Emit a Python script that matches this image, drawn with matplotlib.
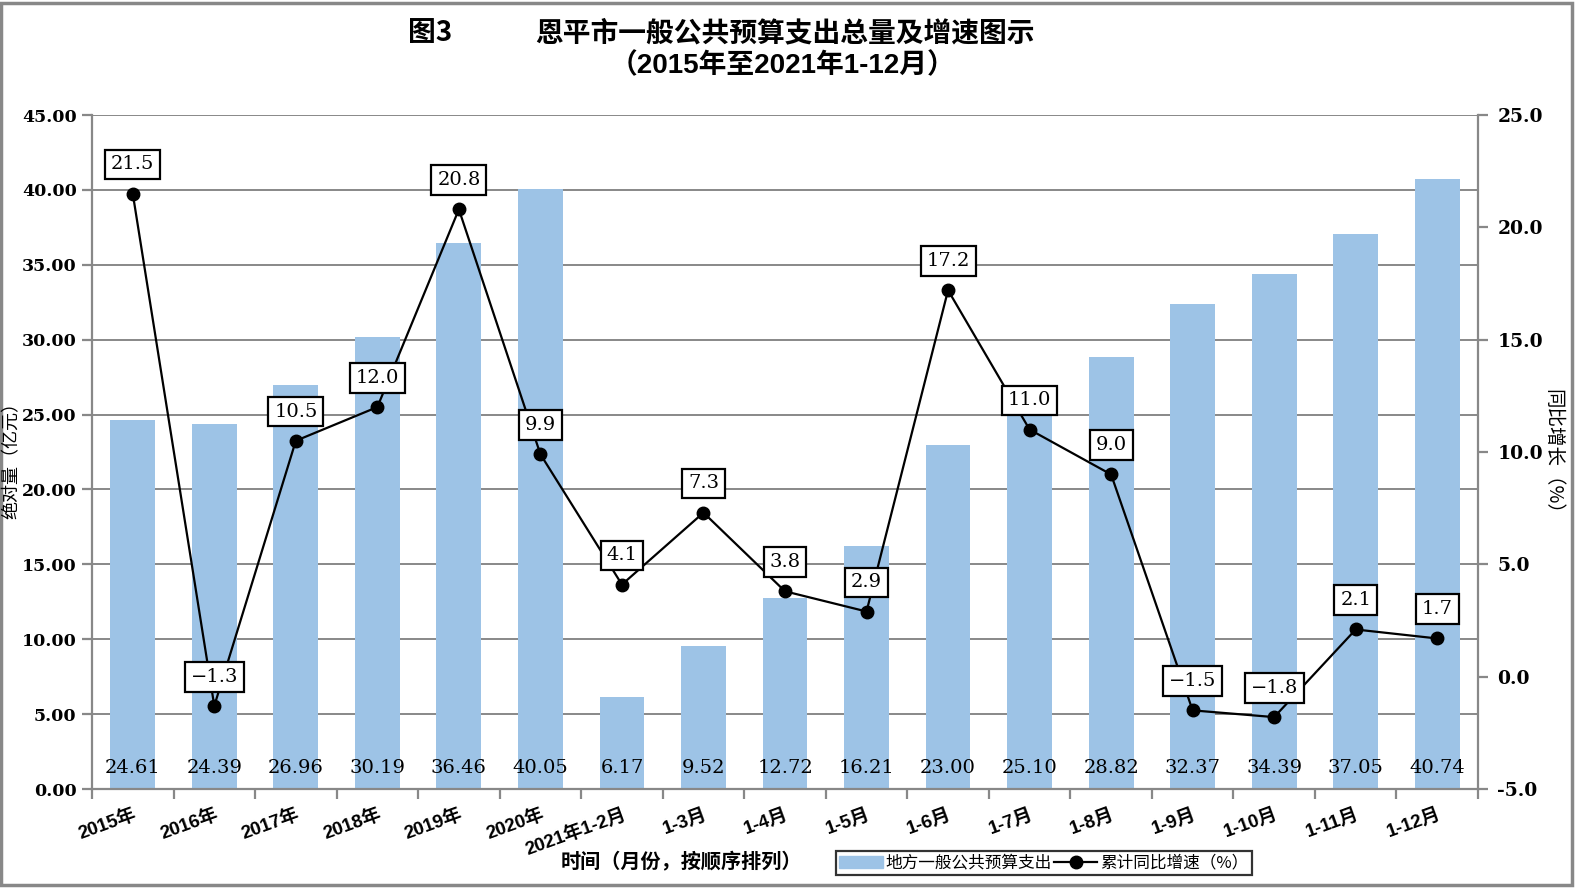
import numpy as np
import matplotlib
matplotlib.use("Agg")
import matplotlib.pyplot as plt
from matplotlib.ticker import FormatStrFormatter, FixedLocator
from matplotlib.patches import Rectangle, Patch
from matplotlib.lines import Line2D

plt.rcParams['font.family'] = ['DejaVu Serif', 'Noto Sans CJK SC']

# --- data ---
categories = ['2015年', '2016年', '2017年', '2018年', '2019年', '2020年',
              '2021年1-2月', '1-3月', '1-4月', '1-5月', '1-6月', '1-7月',
              '1-8月', '1-9月', '1-10月', '1-11月', '1-12月']
spending = [24.61, 24.39, 26.96, 30.19, 36.46, 40.05, 6.17, 9.52, 12.72,
            16.21, 23.00, 25.10, 28.82, 32.37, 34.39, 37.05, 40.74]
growth = [21.5, -1.3, 10.5, 12.0, 20.8, 9.9, 4.1, 7.3, 3.8, 2.9, 17.2,
          11.0, 9.0, -1.5, -1.8, 2.1, 1.7]

GRID = '#888888'
BAR = '#9DC3E6'
CJK_BOLD = ['Liberation Sans', 'Noto Sans CJK SC']

fig = plt.figure(figsize=(15.76, 8.88), dpi=100)
ax = fig.add_axes([92 / 1576, 1 - 789 / 888, (1478 - 92) / 1576, (789 - 115) / 888])

x = np.arange(len(categories))
ax.bar(x, spending, width=0.55, color=BAR, zorder=2)
ax.set_xlim(-0.5, len(categories) - 0.5)
ax.set_ylim(0, 45)
ax.set_yticks(np.arange(0, 46, 5))
ax.yaxis.set_major_formatter(FormatStrFormatter('%.2f'))
ax.grid(axis='y', color=GRID, lw=1.4, zorder=0)
ax.set_axisbelow(True)

for s in ['left', 'bottom', 'right']:
    ax.spines[s].set_color(GRID)
    ax.spines[s].set_linewidth(1.6)
ax.spines['top'].set_visible(False)

ax.tick_params(axis='y', colors=GRID, labelcolor='black', length=7, width=1.6,
               labelsize=12.5, pad=4)
for lab in ax.get_yticklabels():
    lab.set_fontweight('bold')

# category labels at centres, tick marks at boundaries
ax.set_xticks(x)
ax.set_xticklabels(categories, rotation=20, ha='right', va='top',
                   rotation_mode='anchor', family=CJK_BOLD, fontweight='bold',
                   fontsize=13.5)
ax.tick_params(axis='x', which='major', length=0, pad=12)
ax.xaxis.set_minor_locator(FixedLocator(np.arange(-0.5, len(categories), 1)))
ax.tick_params(axis='x', which='minor', length=7, width=1.6, color=GRID)

# bar value labels near the bottom
for xi, v in zip(x, spending):
    ax.annotate(f'{v:.2f}', (xi, 0), xytext=(0, 15), textcoords='offset points',
                ha='center', va='center', fontsize=14, zorder=5)

# growth line on right axis
ax2 = ax.twinx()
ax2.set_ylim(-5, 25)
ax2.set_yticks(np.arange(-5, 26, 5))
ax2.yaxis.set_major_formatter(FormatStrFormatter('%.1f'))
ax2.tick_params(axis='y', colors=GRID, labelcolor='black', length=7, width=1.6,
                labelsize=13.5, pad=7)
for lab in ax2.get_yticklabels():
    lab.set_fontweight('bold')
for s in ax2.spines.values():
    s.set_visible(False)
ax2.plot(x, growth, color='black', lw=1.6, marker='o', ms=9, zorder=3)

for xi, v in zip(x, growth):
    ax2.annotate(f'{v:.1f}'.replace('-', '\u2212'), (xi, v), xytext=(0, 21),
                 textcoords='offset points', ha='center', va='center',
                 fontsize=14,
                 bbox=dict(boxstyle='square,pad=0.3', fc='white', ec='black', lw=1.6),
                 zorder=6)

# axis titles
fig.text(12 / 1576, 1 - 456 / 888, '绝对量（亿元）', rotation=90, ha='center',
         va='center', family=['Noto Sans CJK SC'], fontsize=13)
fig.text(1553 / 1576, 1 - 456 / 888, '同比增长（%）', rotation=270, ha='center',
         va='center', family=['Noto Sans CJK SC'], fontsize=14)
fig.text(681 / 1576, 1 - 862 / 888, '时间（月份，按顺序排列）', ha='center',
         va='center', family=['Noto Sans CJK SC'], fontsize=14.5, fontweight='bold')

# title
fig.text(430 / 1576, 1 - 33 / 888, '图3', ha='center', va='center',
         family=['Noto Sans CJK SC'], fontsize=20, fontweight='bold')
fig.text(785 / 1576, 1 - 33 / 888, '恩平市一般公共预算支出总量及增速图示',
         ha='center', va='center', family=['Noto Sans CJK SC'], fontsize=20,
         fontweight='bold')
fig.text(783 / 1576, 1 - 66 / 888, '（2015年至2021年1-12月）', ha='center',
         va='center', family=CJK_BOLD, fontsize=20, fontweight='bold')

# legend
handles = [Patch(color=BAR, label='地方一般公共预算支出'),
           Line2D([], [], color='black', lw=1.6, marker='o', ms=9,
                  label='累计同比增速（%）')]
leg = fig.legend(handles=handles, loc='center', bbox_to_anchor=(1044 / 1576, 1 - 863 / 888),
                 ncol=2, frameon=True, fancybox=False, edgecolor='black',
                 prop={'family': ['Noto Sans CJK SC'], 'size': 12},
                 handlelength=2.6, handletextpad=0.2, columnspacing=0.1,
                 borderpad=0.2, borderaxespad=0)
leg.get_frame().set_linewidth(1.6)

# outer frame
fig.patches.append(Rectangle((1 / 1576, 3 / 888), 1571 / 1576, 882 / 888,
                             transform=fig.transFigure, fill=False,
                             ec=GRID, lw=2.5))

fig.savefig('out.png', dpi=100)
